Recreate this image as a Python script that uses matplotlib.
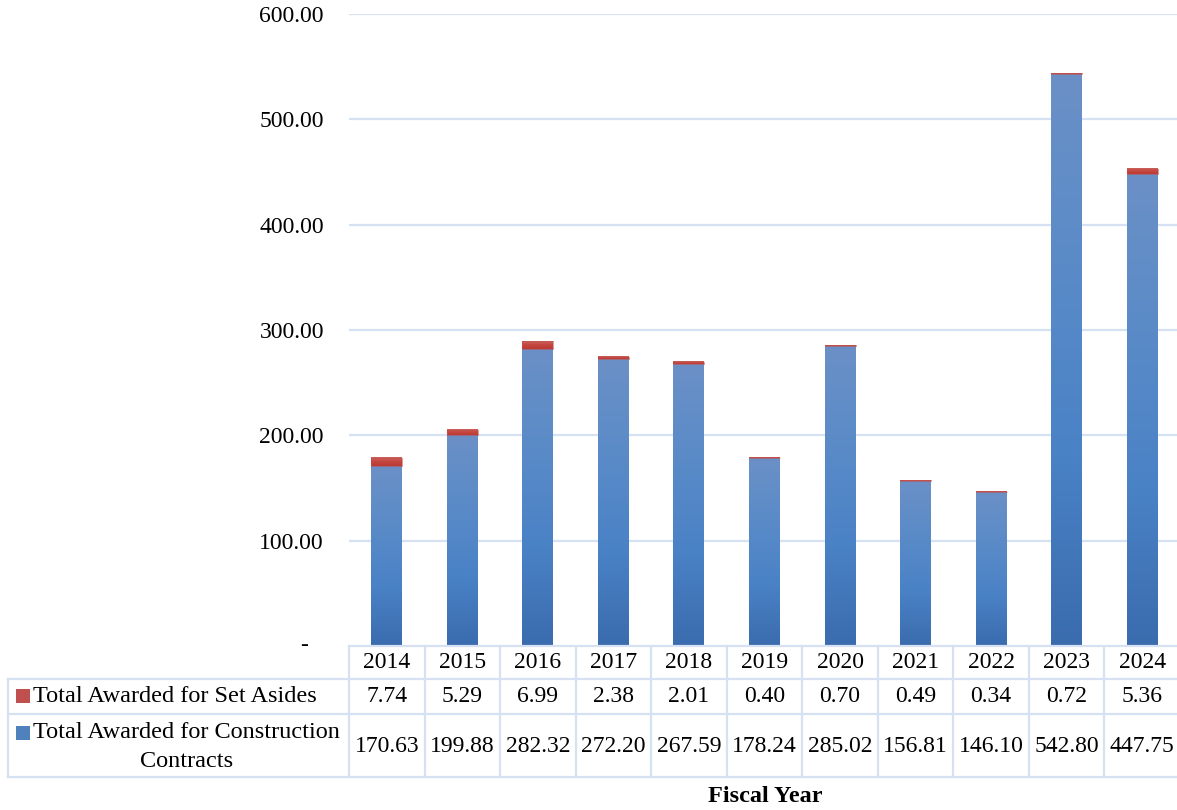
import matplotlib.pyplot as plt
import numpy as np
from matplotlib.colors import LinearSegmentedColormap
from matplotlib.lines import Line2D
from matplotlib.patches import Rectangle
import matplotlib.transforms as mtransforms

# data
years = ['2014', '2015', '2016', '2017', '2018', '2019', '2020', '2021', '2022', '2023', '2024']
set_asides = [7.74, 5.29, 6.99, 2.38, 2.01, 0.40, 0.70, 0.49, 0.34, 0.72, 5.36]
construction = [170.63, 199.88, 282.32, 272.20, 267.59, 178.24, 285.02, 156.81, 146.10, 542.80, 447.75]
row_labels = ['Total Awarded for Set Asides', 'Total Awarded for Construction\nContracts']
yticks = [100, 200, 300, 400, 500, 600]

plt.rcParams['font.family'] = ['Liberation Serif', 'DejaVu Serif']
FS = 17

W, H = 1177, 810
fig = plt.figure(figsize=(W / 100, H / 100), dpi=100)
ax = fig.add_axes([349 / W, (H - 646) / H, (1180 - 349) / W, (646 - 14) / H])

grid_c = '#d6e2f3'
blue_cm = LinearSegmentedColormap.from_list('b', ['#3a6cae', '#4a82c6', '#5a8bc8', '#6b90c6'])
red_cm = LinearSegmentedColormap.from_list('r', ['#bd3a33', '#c44640', '#ca645e'])
grad = np.linspace(0, 1, 256).reshape(-1, 1)

bw = 0.41
x = np.arange(len(years))
for i in x:
    c = construction[i]
    s = set_asides[i]
    ax.imshow(grad, cmap=blue_cm, origin='lower', aspect='auto', interpolation='bilinear',
              extent=[i - bw / 2, i + bw / 2, 0, c], zorder=3)
    ax.imshow(grad, cmap=red_cm, origin='lower', aspect='auto', interpolation='bilinear',
              extent=[i - bw / 2, i + bw / 2, c, c + s], zorder=3)
# thin outline so the tiny set-aside slices still show
ax.bar(x, set_asides, bw, bottom=construction, color='none', edgecolor='#c0504d', lw=0.4, zorder=4)

ax.set_xlim(-0.5, len(years) - 0.5)
ax.set_ylim(0, 600)
ax.set_yticks(yticks)
ax.set_yticklabels(['%.2f' % v for v in yticks], fontsize=FS)
ax.tick_params(axis='y', length=0, pad=18)
ax.set_xticks([])
for sp in ax.spines.values():
    sp.set_visible(False)
for v in yticks:
    ax.axhline(v, color=grid_c, lw=1.6, zorder=1)
ax.annotate('-', xy=(0, 0), xycoords=('axes fraction', 'data'), xytext=(-32, 0),
            textcoords='offset points', ha='center', va='center', fontsize=FS)

# data table under the chart
tr = mtransforms.blended_transform_factory(ax.transData, fig.transFigure)
fy = lambda py: 1 - py / H
fx = lambda px: px / W

edges = np.arange(len(years) + 1) - 0.5
for e in edges:
    fig.add_artist(Line2D([e, e], [fy(646), fy(777)], transform=tr, color=grid_c, lw=1.6))
fig.add_artist(Line2D([fx(8), fx(8)], [fy(679), fy(777)], transform=fig.transFigure, color=grid_c, lw=1.6))
fig.add_artist(Line2D([fx(349), 1], [fy(646), fy(646)], transform=fig.transFigure, color=grid_c, lw=1.6))
for py in [679, 714, 777]:
    fig.add_artist(Line2D([fx(8), 1], [fy(py), fy(py)], transform=fig.transFigure, color=grid_c, lw=1.6))

for i, yr in enumerate(years):
    fig.text(i, fy(662), yr, transform=tr, ha='center', va='center', fontsize=FS)
    fig.text(i, fy(697), '%.2f' % set_asides[i], transform=tr, ha='center', va='center', fontsize=FS)
    fig.text(i, fy(746), '%.2f' % construction[i], transform=tr, ha='center', va='center', fontsize=FS)

LFS = 17.5
fig.add_artist(Rectangle((fx(16), fy(703)), 14 / W, 14 / H, transform=fig.transFigure,
                         facecolor='#c0504d', edgecolor='none'))
fig.text(fx(33), fy(697), row_labels[0], ha='left', va='center', fontsize=LFS)
fig.add_artist(Rectangle((fx(16), fy(740)), 14 / W, 14 / H, transform=fig.transFigure,
                         facecolor='#4f81bd', edgecolor='none'))
fig.text(fx(33), fy(747), row_labels[1], ha='left', va='center', fontsize=LFS,
         multialignment='center', linespacing=1.45)

fig.text(fx(765), fy(797), 'Fiscal Year', ha='center', va='center', fontsize=LFS, fontweight='bold')

fig.savefig('out.png', dpi=100)
